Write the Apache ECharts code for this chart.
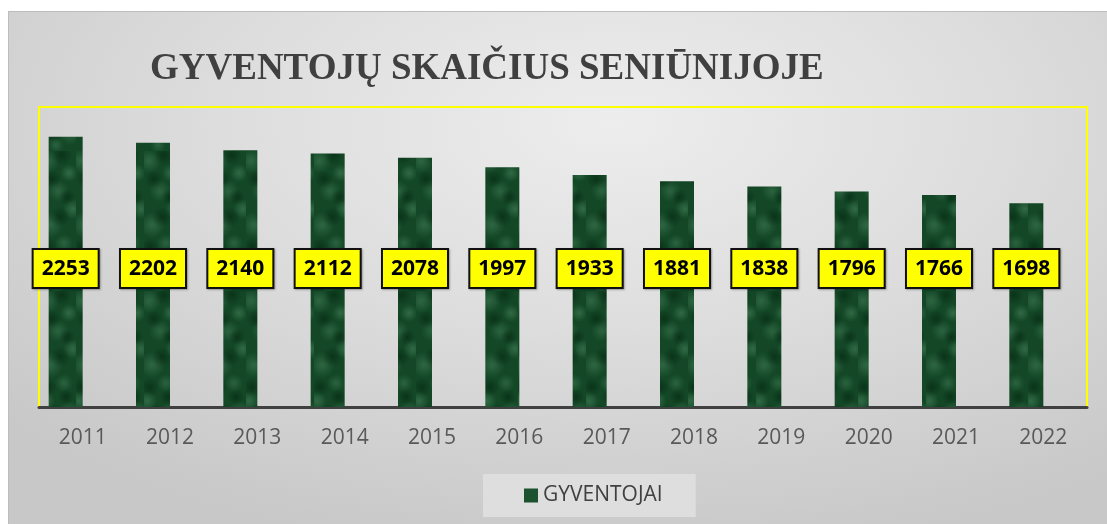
<!DOCTYPE html>
<html>
<head>
<meta charset="utf-8">
<script src="https://cdn.jsdelivr.net/npm/echarts@6/dist/echarts.min.js"></script>
<style>
  html, body { margin: 0; padding: 0; background: #fff; }
  #chart {
    position: absolute; left: 8px; top: 11px; width: 1099px; height: 513px;
    background: radial-gradient(ellipse 75% 85% at 55% 22%, #ededed 0%, #dedede 45%, #c8c8c8 100%);
    box-shadow: inset 1px 1px 0 #bdbdbd;
  }
</style>
</head>
<body>
<div id="chart"></div>
<script>
// ── data ──────────────────────────────────────────────
const years = ['2011', '2012', '2013', '2014', '2015', '2016', '2017', '2018', '2019', '2020', '2021', '2022']
const residents = [2253, 2202, 2140, 2112, 2078, 1997, 1933, 1881, 1838, 1796, 1766, 1698]

const TITLE = 'GYVENTOJŲ SKAIČIUS SENIŪNIJOJE'
const SERIES_NAME = 'GYVENTOJAI'

// marble-ish green fill for the bars (decorative only)
function marbleTexture() {
  const c = document.createElement('canvas')
  c.width = 34; c.height = 140
  const g = c.getContext('2d')
  g.fillStyle = '#134726'
  g.fillRect(0, 0, 34, 140)
  const light = [[5, 10, 12, 0.45], [27, 22, 9, 0.5], [16, 40, 11, 0.4], [31, 58, 10, 0.5], [8, 74, 13, 0.45],
                 [22, 92, 9, 0.4], [3, 110, 10, 0.5], [28, 122, 12, 0.45], [14, 134, 8, 0.4]]
  light.forEach(([x, y, r, a]) => {
    const rg = g.createRadialGradient(x, y, 0, x, y, r)
    rg.addColorStop(0, `rgba(80,140,100,${a})`)
    rg.addColorStop(1, 'rgba(80,140,100,0)')
    g.fillStyle = rg
    g.fillRect(0, 0, 34, 140)
  })
  const dark = [[20, 4, 10], [10, 28, 9], [25, 46, 8], [18, 66, 10], [6, 96, 9], [24, 106, 8], [12, 122, 9]]
  dark.forEach(([x, y, r]) => {
    const rg = g.createRadialGradient(x, y, 0, x, y, r)
    rg.addColorStop(0, 'rgba(3,36,14,0.55)')
    rg.addColorStop(1, 'rgba(3,36,14,0)')
    g.fillStyle = rg
    g.fillRect(0, 0, 34, 140)
  })
  return c
}

const chart = echarts.init(document.getElementById('chart'), null, { renderer: 'canvas' })

chart.setOption({
  backgroundColor: 'transparent',
  animation: false,
  title: {
    text: TITLE,
    left: 137,
    top: 35,
    textStyle: { fontFamily: '"Liberation Serif", serif', fontWeight: 'bold', fontSize: 37, color: '#404040' },
  },
  legend: {
    data: [SERIES_NAME],
    left: 475,
    top: 463,
    padding: [11, 33, 11, 41],
    backgroundColor: '#dedede',
    itemWidth: 14,
    itemHeight: 14,
    icon: 'rect',
    itemStyle: { color: '#1d5230' },
    textStyle: { fontFamily: '"Open Sans", sans-serif', fontSize: 21, color: '#404040', lineHeight: 20 },
  },
  grid: {
    left: 31, right: 20, top: 96, bottom: 117,
    show: true,
    borderColor: '#ffff00',
    borderWidth: 2,
    backgroundColor: 'transparent',
  },
  xAxis: {
    type: 'category',
    data: years,
    axisLine: { lineStyle: { color: '#404040', width: 3 } },
    axisTick: { show: false },
    axisLabel: { margin: 21, fontFamily: '"Open Sans", sans-serif', fontSize: 21, color: '#595959' },
  },
  yAxis: {
    type: 'value',
    min: 0, max: 2500, interval: 500,
    show: false,
    splitLine: { show: false },
  },
  series: [
    {
      name: SERIES_NAME,
      type: 'bar',
      data: residents,
      barWidth: 34,
      barGap: '0%',
      itemStyle: { color: { image: marbleTexture(), repeat: 'repeat' } },
      label: {
        show: true,
        position: 'insideBottom',
        distance: 120,
        fontFamily: '"Open Sans", sans-serif',
        fontWeight: 'bold',
        fontSize: 21,
        lineHeight: 26,
        color: '#000',
        backgroundColor: '#ffff00',
        borderColor: '#111',
        borderWidth: 2,
        padding: [6, 8, 5, 8],
        shadowColor: 'rgba(0,0,0,0.3)',
        shadowBlur: 2,
        shadowOffsetX: 1,
        shadowOffsetY: 1,
      },
    },
    {
      // empty companion series — keeps the bar slot shifted left like the original
      name: 'spacer',
      type: 'bar',
      data: [],
      barWidth: 34,
      barGap: '0%',
    },
  ],
})
</script>
</body>
</html>
